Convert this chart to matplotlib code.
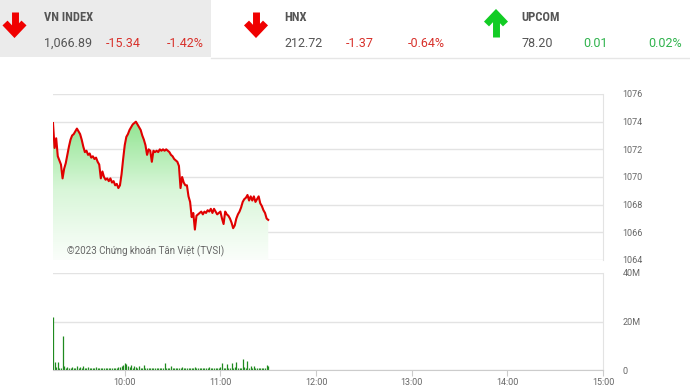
import matplotlib.pyplot as plt
import numpy as np
from matplotlib.colors import LinearSegmentedColormap

plt.rcParams['font.family'] = ['Roboto', 'DejaVu Sans']

# header boards
names = ['VN INDEX', 'HNX', 'UPCOM']
last = ['1,066.89', '212.72', '78.20']
change = ['-15.34', '-1.37', '0.01']
pct = ['-1.42%', '-0.64%', '0.02%']
going_up = [False, False, True]

# minutes since 9:15 (morning session only)
minutes = list(range(136))
price = [1073.9, 1072.1, 1072.8, 1071.5, 1071.2, 1070.9, 1069.9, 1070.6, 1071.0, 1071.6,
         1072.2, 1072.7, 1073.0, 1073.1, 1073.3, 1073.5, 1073.3, 1073.1, 1072.7, 1072.2,
         1071.8, 1071.9, 1071.6, 1071.7, 1071.4, 1071.5, 1071.3, 1071.4, 1071.1, 1070.9,
         1069.9, 1070.4, 1070.0, 1069.8, 1069.9, 1069.7, 1069.9, 1069.6, 1069.7, 1069.4,
         1069.5, 1069.2, 1069.4, 1070.2, 1071.3, 1072.3, 1072.9, 1073.1, 1073.4, 1073.6,
         1073.8, 1073.9, 1074.0, 1073.8, 1073.6, 1073.4, 1073.0, 1072.7, 1072.3, 1071.6,
         1072.0, 1071.9, 1071.1, 1071.9, 1071.8, 1071.9, 1071.8, 1072.0, 1071.9, 1072.0,
         1071.9, 1072.0, 1071.9, 1071.8, 1071.6, 1071.5, 1071.3, 1071.2, 1071.1, 1070.8,
         1069.2, 1070.0, 1069.6, 1069.4, 1069.4, 1068.6, 1068.2, 1067.1, 1067.4, 1066.2,
         1067.2, 1067.3, 1067.4, 1067.5, 1067.3, 1067.5, 1067.4, 1067.6, 1067.5, 1067.7,
         1067.4, 1067.7, 1067.5, 1067.3, 1067.4, 1067.5, 1067.0, 1066.6, 1067.5, 1067.3,
         1067.2, 1067.0, 1066.7, 1066.3, 1066.5, 1067.0, 1067.3, 1067.5, 1067.8, 1068.2,
         1068.4, 1068.5, 1068.7, 1068.3, 1068.6, 1068.3, 1068.6, 1068.2, 1068.4, 1068.6,
         1068.1, 1067.9, 1067.6, 1067.4, 1067.0, 1066.9]
# volume in millions of shares
volume = [22.0, 3.5, 1.2, 3.5, 0.8, 1.0, 14.0, 1.5, 1.0, 1.2,
          0.9, 1.0, 1.4, 0.8, 1.0, 1.8, 0.9, 1.1, 1.0, 1.6,
          0.8, 1.0, 1.3, 0.7, 0.9, 1.0, 0.8, 1.2, 0.9, 0.8,
          1.0, 0.7, 0.9, 0.8, 1.0, 0.7, 0.8, 0.9, 0.7, 1.0,
          0.8, 1.1, 1.3, 1.5, 2.0, 3.0, 2.6, 1.8, 1.2, 2.2,
          1.0, 1.5, 1.1, 0.9, 1.8, 0.8, 1.0, 1.9, 0.9, 0.8,
          1.0, 0.7, 0.8, 0.9, 1.0, 0.8, 0.7, 0.9, 0.8, 0.9,
          3.0, 0.8, 0.7, 0.9, 1.8, 0.8, 0.7, 0.9, 0.8, 1.0,
          0.9, 1.2, 0.8, 0.7, 1.0, 0.9, 0.8, 1.0, 0.7, 1.1,
          0.8, 0.9, 0.7, 0.8, 1.0, 0.7, 0.9, 0.8, 1.2, 0.7,
          0.9, 0.8, 1.0, 0.7, 0.9, 1.3, 3.0, 1.0, 0.8, 2.5,
          0.9, 1.0, 2.7, 0.8, 1.2, 3.5, 0.9, 0.8, 1.0, 4.4,
          1.2, 0.9, 3.9, 1.0, 1.5, 0.9, 1.8, 1.0, 0.8, 0.9,
          1.0, 0.7, 0.8, 1.0, 2.0, 1.6]

hour_ticks = [45, 105, 165, 225, 285, 345]
hour_labels = ['10:00', '11:00', '12:00', '13:00', '14:00', '15:00']
price_ticks = [1064, 1066, 1068, 1070, 1072, 1074, 1076]
vol_ticks = [0, 20, 40]
vol_labels = ['0', '20M', '40M']

grid_c = '#e3e3e3'
lab_c = '#666666'
red = '#d8312b'
green = '#2fb34c'

fig = plt.figure(figsize=(6.9, 3.92), dpi=100)

# header drawn in pixel coordinates
hd = fig.add_axes([0, 0, 1, 1])
hd.set_xlim(0, 690)
hd.set_ylim(392, 0)
hd.axis('off')
hd.add_patch(plt.Rectangle((0, 0), 211, 57, color='#ebebeb', lw=0))
hd.plot([211, 690], [57.5, 57.5], color='#e6e6e6', lw=1)

arrow_x = [14.5, 256, 496]
text_x = [44, 284, 521]
pct_x = [167, 408, 648]
for i in range(3):
    cx = arrow_x[i]
    if going_up[i]:
        col = '#12cc24'
        hd.plot([cx, cx], [37, 16], color=col, lw=5, solid_capstyle='butt')
        hd.plot([cx - 9.5, cx, cx + 9.5], [24, 14, 24], color=col, lw=5,
                solid_joinstyle='miter', solid_capstyle='butt')
    else:
        col = '#f00000'
        hd.plot([cx, cx], [12, 32], color=col, lw=5, solid_capstyle='butt')
        hd.plot([cx - 9.5, cx, cx + 9.5], [23, 33, 23], color=col, lw=5,
                solid_joinstyle='miter', solid_capstyle='butt')
    tx = text_x[i]
    hd.text(tx, 17, names[i], fontsize=9, fontweight='bold', color='#555555',
            va='center', ha='left', family=['Roboto Condensed', 'Roboto', 'DejaVu Sans'])
    c2 = green if going_up[i] else red
    hd.text(tx, 43, last[i], fontsize=9, color='#555555', va='center', ha='left')
    hd.text(tx + 62, 43, change[i], fontsize=9, color=c2, va='center', ha='left')
    hd.text(pct_x[i], 43, pct[i], fontsize=9, color=c2, va='center', ha='left')

# price panel
ax = fig.add_axes([53 / 690, 1 - 260 / 392, 550 / 690, 166 / 392])
ax.set_xlim(0, 345)
ax.set_ylim(1064, 1076)
cmap = LinearSegmentedColormap.from_list('g', ['#fbfefb', '#d8f6d8', '#8fe48f'])
grad = np.linspace(0, 1, 256).reshape(-1, 1)
fill = ax.fill_between(minutes, price, 1064, color='none', lw=0)
img = ax.imshow(grad, extent=[0, 345, 1064, 1074.2], origin='lower', aspect='auto',
                cmap=cmap, zorder=1)
img.set_clip_path(fill.get_paths()[0], transform=ax.transData)
ax.plot(minutes, price, color='#e00000', lw=1.5, zorder=3)
ax.set_yticks(price_ticks)
ax.grid(axis='y', color=grid_c, lw=1)
ax.set_axisbelow(True)
ax.yaxis.tick_right()
ax.tick_params(axis='y', length=0, labelsize=6.5, labelcolor=lab_c, pad=14)
ax.set_xticks([])
for s in ['left', 'top', 'bottom']:
    ax.spines[s].set_visible(False)
ax.spines['right'].set_color(grid_c)
ax.text(9, 1064.6, '©2023 Chứng khoán Tân Việt (TVSI)', fontsize=7, color=lab_c,
        va='center', ha='left', zorder=4)

# volume panel
av = fig.add_axes([53 / 690, 1 - 370 / 392, 550 / 690, 97 / 392])
av.set_xlim(0, 345)
av.set_ylim(0, 40)
av.vlines(minutes, 0, volume, color='#1f8a1f', lw=0.9)
av.set_yticks(vol_ticks)
av.set_yticklabels(vol_labels)
av.grid(axis='y', color=grid_c, lw=1)
av.set_axisbelow(True)
av.yaxis.tick_right()
av.tick_params(axis='y', length=0, labelsize=6.5, labelcolor=lab_c, pad=14)
av.set_xticks(hour_ticks)
av.set_xticklabels(hour_labels)
av.tick_params(axis='x', length=4, color='#cccccc', labelsize=6.5, labelcolor=lab_c, pad=2)
for s in ['left', 'top']:
    av.spines[s].set_visible(False)
av.spines['right'].set_color(grid_c)
av.spines['bottom'].set_color('#cccccc')

fig.savefig('out.png', dpi=100)
